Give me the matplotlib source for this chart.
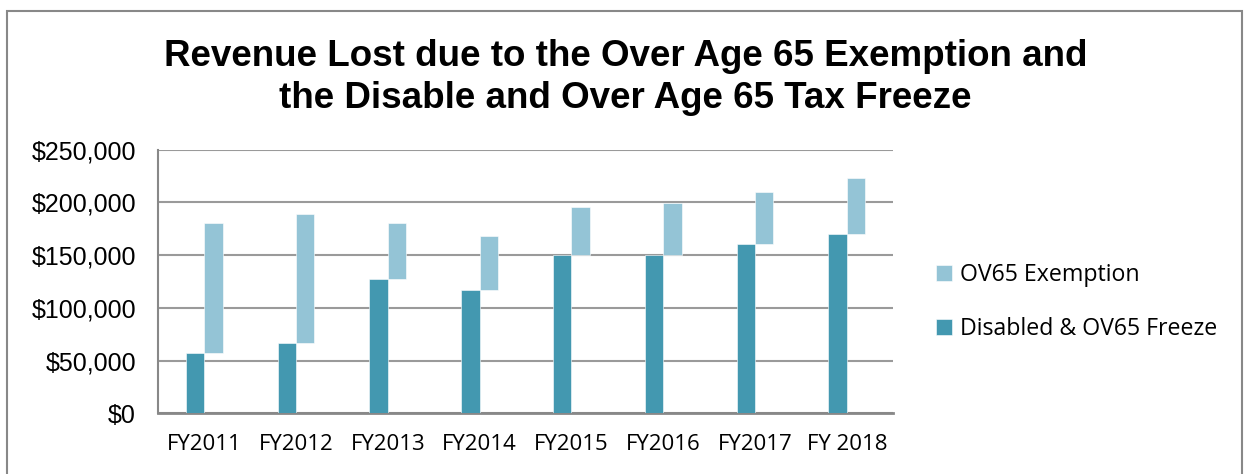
import matplotlib
matplotlib.use("Agg")
import matplotlib.pyplot as plt
import numpy as np
from matplotlib.patches import Rectangle
from matplotlib.ticker import FuncFormatter

years = ["FY2011", "FY2012", "FY2013", "FY2014", "FY2015", "FY2016", "FY2017", "FY 2018"]
freeze = [57500, 66400, 127700, 117000, 150000, 150000, 160600, 170100]
exemption = [123300, 122700, 52600, 51200, 45400, 49300, 49600, 52900]

dark = "#4398b0"
light = "#94c4d6"

fig = plt.figure(figsize=(12.44, 4.74), dpi=100)
ax = fig.add_axes([0.1273, 0.128, 0.5903, 0.556])

x = np.arange(len(years))
w = 0.2
ax.bar(x - w / 2, freeze, width=w, color=dark, edgecolor="white", linewidth=0.4,
       label="Disabled & OV65 Freeze", zorder=3)
ax.bar(x + w / 2, exemption, width=w, bottom=freeze, color=light, edgecolor="white",
       linewidth=0.4, label="OV65 Exemption", zorder=3)

ax.set_xlim(-0.5, len(years) - 0.5)
ax.set_ylim(0, 250000)
ax.set_yticks(np.arange(0, 250001, 50000))
ax.yaxis.set_major_formatter(FuncFormatter(lambda v, p: "${:,.0f}".format(v)))
ax.set_xticks(x)
ax.set_xticklabels(years, fontfamily="Open Sans", fontsize=16)
for lab in ax.get_yticklabels():
    lab.set_fontfamily("Liberation Sans")
    lab.set_fontsize(18)
ax.tick_params(axis="y", length=0, pad=16)
ax.tick_params(axis="x", length=0, pad=15)

ax.grid(axis="y", color="#9a9a9a", linewidth=1.5, zorder=0)
for s in ["right", "top"]:
    ax.spines[s].set_visible(False)
ax.spines["left"].set_color("#888888")
ax.spines["left"].set_linewidth(1.5)
ax.spines["bottom"].set_color("#888888")
ax.spines["bottom"].set_linewidth(2)

h, l = ax.get_legend_handles_labels()
fig.legend(h[::-1], l[::-1], loc="center left", bbox_to_anchor=(0.736, 0.363),
           frameon=False, prop={"family": "Open Sans", "size": 16.7},
           handlelength=0.66, handleheight=0.66, handletextpad=0.34, labelspacing=1.3)

title_lines = ["Revenue Lost due to the Over Age 65 Exemption and",
               "the Disable and Over Age 65 Tax Freeze"]
for line, yb in zip(title_lines, [0.8608, 0.7722]):
    fig.text(0.503, yb, line, ha="center", va="baseline", fontfamily="Liberation Sans",
             fontweight="bold", fontsize=26.5)

fig.patches.append(Rectangle((0.0056, -0.05), 0.993, 1.027, transform=fig.transFigure,
                             fill=False, edgecolor="#888888", linewidth=1.5))

fig.savefig("out.png", dpi=100)
